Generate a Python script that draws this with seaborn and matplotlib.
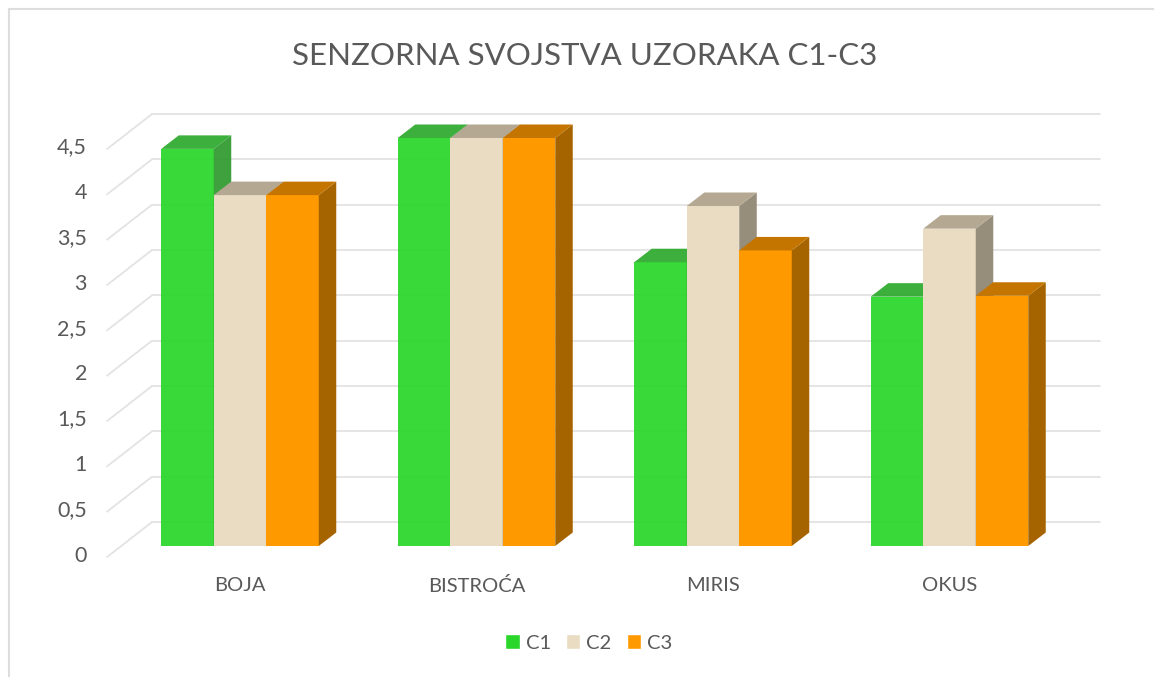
import pandas as pd
import seaborn as sns
from matplotlib import pyplot as plt
from matplotlib.lines import Line2D
from matplotlib.patches import Polygon
from matplotlib.transforms import ScaledTranslation

categories = ['BOJA', 'BISTROĆA', 'MIRIS', 'OKUS']
c1_values = [4.38, 4.5, 3.13, 2.75]
c2_values = [3.87, 4.5, 3.75, 3.5]
c3_values = [3.87, 4.5, 3.26, 2.76]
series_names = ['C1', 'C2', 'C3']
y_ticks = [0, 0.5, 1, 1.5, 2, 2.5, 3, 3.5, 4, 4.5]
y_tick_labels = ['0', '0,5', '1', '1,5', '2', '2,5', '3', '3,5', '4', '4,5']

front_colors = {'C1': '#2BD62B', 'C2': '#E9DCC3', 'C3': '#FF9900'}
top_colors = {'C1': '#2DA92D', 'C2': '#B5A892', 'C3': '#C47500'}
side_colors = {'C1': '#2F9A2F', 'C2': '#968D7A', 'C3': '#A66400'}
text_color = '#595959'
grid_color = '#E3E3E3'

# depth of the fake 3d, in data units (236.5 px per category, 90.67 px per y unit)
BAR_DX = 17.5 / 236.5
BAR_DY = 13.5 / 90.67
WALL_RISE = 24 / 90.67
WALL_DROP = 11 / 90.67
WALL_LEFT = -0.372
WALL_RIGHT = 3.636
FRONT_LEFT = -0.562

df = pd.DataFrame({
    'kategorija': categories * 3,
    'uzorak': [s for s in series_names for _ in categories],
    'ocjena': c1_values + c2_values + c3_values,
})

sns.set_theme(style='white')
plt.rcParams['font.family'] = ['Lato', 'DejaVu Sans']

fig = plt.figure(figsize=(11.54, 6.77), dpi=100)
ax = fig.add_axes([121.75 / 1154, 1 - 546 / 677, 946 / 1154, 408 / 677])

sns.barplot(data=df, x='kategorija', y='ocjena', hue='uzorak', palette=front_colors,
            width=0.666, gap=0, saturation=1, ax=ax)

ax.set_xlim(-0.5, 3.5)
ax.set_ylim(0, 4.5)
sns.despine(ax=ax, left=True, bottom=True)
ax.set_xlabel('')
ax.set_ylabel('')
ax.set_yticks(y_ticks, y_tick_labels)
ax.tick_params(axis='x', length=0, pad=22, labelsize=14.5, labelcolor=text_color)
ax.tick_params(axis='y', length=0, pad=25, labelsize=15.5, labelcolor=text_color)
for label in ax.get_yticklabels():
    label.set_transform(label.get_transform() + ScaledTranslation(0, -7.5 / 100, fig.dpi_scale_trans))

# back wall gridlines and the diagonals on the left side wall
for v in y_ticks:
    ax.add_line(Line2D([WALL_LEFT, WALL_RIGHT], [v + WALL_RISE, v + WALL_RISE], color=grid_color,
                       lw=1.3, zorder=1, clip_on=False))
    ax.add_line(Line2D([FRONT_LEFT, WALL_LEFT], [v - WALL_DROP, v + WALL_RISE], color=grid_color,
                       lw=1.3, zorder=1, clip_on=False))

# side and top faces for each bar, later series cover the earlier ones
for i, (container, name) in enumerate(zip(ax.containers, series_names)):
    alpha = 0.93 if name == 'C1' else 1
    for bar in container:
        x0 = bar.get_x()
        x1 = x0 + bar.get_width()
        h = bar.get_height()
        bar.set_zorder(3 + i)
        bar.set_alpha(alpha)
        bar.set_linewidth(0)
        ax.add_patch(Polygon([(x1, 0), (x1 + BAR_DX, BAR_DY), (x1 + BAR_DX, h + BAR_DY), (x1, h)],
                             facecolor=side_colors[name], alpha=alpha, lw=0, zorder=3 + i, clip_on=False))
        ax.add_patch(Polygon([(x0, h), (x0 + BAR_DX, h + BAR_DY), (x1 + BAR_DX, h + BAR_DY), (x1, h)],
                             facecolor=top_colors[name], alpha=alpha, lw=0, zorder=3 + i, clip_on=False))

sns.move_legend(ax, 'center', bbox_to_anchor=(589 / 1154, 1 - 643 / 677), bbox_transform=fig.transFigure,
                ncol=3, frameon=False, title=None, fontsize=14.5, labelcolor=text_color,
                handlelength=0.7, handleheight=0.7, handletextpad=0.3, columnspacing=0.77)

fig.text(584.5 / 1154, 1 - 56 / 677, 'SENZORNA SVOJSTVA UZORAKA C1-C3', ha='center', va='center',
         fontsize=22.5, color=text_color)

# chart frame, only the left and top edges are in the crop
fig.add_artist(Line2D([8.5 / 1154, 8.5 / 1154], [0, 1 - 8.5 / 677], color='#DDDDDD', lw=1.5))
fig.add_artist(Line2D([8.5 / 1154, 1], [1 - 8.5 / 677, 1 - 8.5 / 677], color='#DDDDDD', lw=1.5))

fig.savefig('out.png', dpi=100)
